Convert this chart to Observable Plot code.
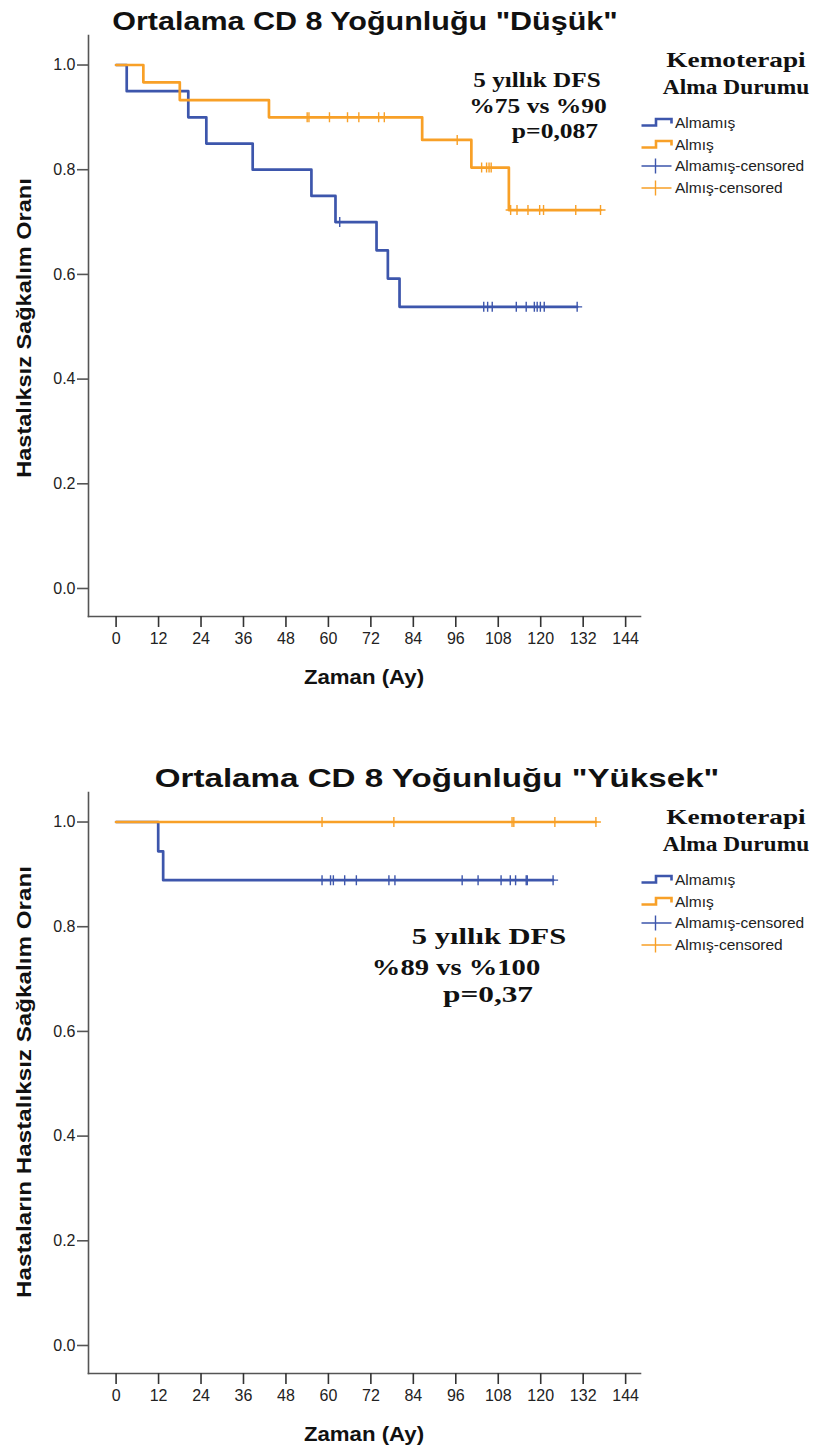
<!DOCTYPE html>
<html><head><meta charset="utf-8">
<script src="https://cdn.jsdelivr.net/npm/d3@7"></script>
<script src="https://cdn.jsdelivr.net/npm/@observablehq/plot@0.6"></script>
<style>
body{margin:0;background:#fff;}
#page{position:relative;width:827px;height:1452px;overflow:hidden;background:#fff;}
.t{position:absolute;white-space:nowrap;line-height:1;color:#111;}
#page svg.plotsvg{position:absolute;left:0;}
</style></head><body><div id="page"></div>
<script>
// ---------- data ----------
const xTicks = [0, 12, 24, 36, 48, 60, 72, 84, 96, 108, 120, 132, 144];
const yTicks = [0, 0.2, 0.4, 0.6, 0.8, 1.0];
const seriesNames = ["Almamış", "Almış"];
const legendLabels = ["Almamış", "Almış", "Almamış-censored", "Almış-censored"];
const seriesColors = ["#3d56ac", "#f8a027"];

// Panel 1: Ortalama CD 8 Yoğunluğu "Düşük"
const dusukAlmamisTime = [0, 3.0, 20.4, 25.5, 38.6, 55.2, 62.0, 73.6, 76.8, 80.1, 130.3];
const dusukAlmamisSurv = [1, 0.95, 0.90, 0.85, 0.80, 0.75, 0.70, 0.646, 0.592, 0.538, 0.538];
const dusukAlmamisCensor = [63.2, 103.9, 105.0, 106.3, 113.1, 115.9, 118.2, 119.0, 119.9, 121.0, 130.3];
const dusukAlmisTime = [0, 7.7, 18.0, 43.2, 86.5, 100.4, 111.0, 136.9];
const dusukAlmisSurv = [1, 0.967, 0.933, 0.900, 0.857, 0.804, 0.723, 0.723];
const dusukAlmisCensor = [54.0, 54.5, 60.3, 65.4, 68.6, 74.2, 75.8, 96.4, 103.3, 104.7, 105.4, 106.0, 111.5, 113.3, 116.4, 119.7, 120.8, 129.9, 136.9];

// Panel 2: Ortalama CD 8 Yoğunluğu "Yüksek"
const yuksekAlmamisTime = [0, 11.9, 13.3, 123.5];
const yuksekAlmamisSurv = [1, 0.944, 0.889, 0.889];
const yuksekAlmamisCensor = [58.2, 60.6, 61.4, 64.6, 67.9, 77.1, 78.8, 97.8, 102.3, 108.8, 111.4, 112.9, 115.9, 116.2, 123.5];
const yuksekAlmisTime = [0, 135.6];
const yuksekAlmisSurv = [1, 1];
const yuksekAlmisCensor = [58.2, 78.5, 111.9, 112.4, 124.0, 135.6];

const titles = ['Ortalama CD 8 Yoğunluğu "Düşük"', 'Ortalama CD 8 Yoğunluğu "Yüksek"'];
const yLabels = ["Hastalıksız Sağkalım Oranı", "Hastaların Hastalıksız Sağkalım Oranı"];
const xLabel = "Zaman (Ay)";
const legendTitle = ["Kemoterapi", "Alma Durumu"];
const notes = [["5 yıllık DFS", "%75 vs %90", "p=0,087"], ["5 yıllık DFS", "%89 vs %100", "p=0,37"]];

// ---------- layout ----------
const page = document.getElementById("page");
const SANS = '"Liberation Sans", Arial, sans-serif';
const SERIF = '"Liberation Serif", "Times New Roman", serif';
const AXIS = "#555";
const xExtent = [-7.8, 148.2];
const yExtent = [-0.0535, 1.0564];

function addText(txt, o) {
  const el = document.createElement("div");
  el.className = "t";
  el.textContent = txt;
  el.style.fontSize = o.size + "px";
  el.style.fontFamily = o.font;
  el.style.fontWeight = o.weight || "normal";
  if (o.color) el.style.color = o.color;
  page.appendChild(el);
  const w = el.offsetWidth;
  const sx = o.width ? o.width / w : 1;
  el.style.left = o.x + "px";
  el.style.top = o.y + "px";
  if (o.anchor === "start") {
    el.style.transformOrigin = "0 50%";
    el.style.transform = `translate(0,-50%) scaleX(${sx})`;
  } else {
    el.style.transform = `translate(-50%,-50%)${o.rotate ? ` rotate(${o.rotate}deg)` : ""} scaleX(${sx})`;
  }
  return el;
}

const plusSymbol = {
  draw(ctx, size) {
    const r = Math.sqrt(size / Math.PI);
    ctx.moveTo(0, -r); ctx.lineTo(0, r);
    ctx.moveTo(-r, 0); ctx.lineTo(r, 0);
  }
};

function stepRows(name, time, surv) {
  return time.map((t, i) => ({group: name, t, S: surv[i]}));
}
function censorRows(name, time, surv, cens) {
  return cens.map(c => ({group: name, t: c, S: surv[Math.max(0, d3.bisectRight(time, c) - 1)]}));
}

const titleBox = [[365, 20.5, 25, 506], [437, 777.5, 26, 565]];

function panel(idx, oy, series) {
  const lines = series.flatMap(s => stepRows(s.name, s.time, s.surv));
  const cens = series.flatMap(s => censorRows(s.name, s.time, s.surv, s.cens));
  const svg = Plot.plot({
    width: 827, height: 700,
    marginLeft: 88, marginRight: 187, marginTop: 35, marginBottom: 84,
    style: {background: "transparent", fontFamily: SANS, color: "#222"},
    x: {domain: xExtent},
    y: {domain: yExtent},
    color: {domain: seriesNames, range: seriesColors},
    marks: [
      Plot.frame({anchor: "left", stroke: AXIS, strokeWidth: 1.6}),
      Plot.frame({anchor: "bottom", stroke: AXIS, strokeWidth: 1.6}),
      Plot.axisY(yTicks, {tickFormat: d3.format(".1f"), tickSize: 11, tickPadding: 2, fontSize: 16, label: null, stroke: AXIS, strokeWidth: 1.6, fill: "#222"}),
      Plot.axisX(xTicks, {tickSize: 11, tickPadding: 5, fontSize: 16, label: null, stroke: "#333", strokeWidth: 1.6, fill: "#222"}),
      Plot.line(lines, {x: "t", y: "S", z: "group", stroke: "group", curve: "step-after", strokeWidth: 2.7}),
      Plot.dot(cens, {x: "t", y: "S", stroke: "group", fill: "none", symbol: plusSymbol, r: 5, strokeWidth: 1.4})
    ]
  });
  svg.classList.add("plotsvg");
  svg.style.top = oy + "px";
  page.appendChild(svg);

  // title
  const tb = titleBox[idx];
  addText(titles[idx], {x: tb[0], y: tb[1], size: tb[2], font: SANS, weight: "bold", width: tb[3]});
  // y label
  addText(yLabels[idx], {x: 24, y: oy + (idx === 0 ? 328 : 325), size: 20, font: SANS, weight: "bold", rotate: -90, width: idx === 0 ? 300 : 432});
  // x label
  addText(xLabel, {x: 364, y: oy + 677, size: 20, font: SANS, weight: "bold", width: 120});
  // legend title
  addText(legendTitle[0], {x: 736, y: oy + 59.5, size: 21, font: SERIF, weight: "bold", width: 139});
  addText(legendTitle[1], {x: 736, y: oy + 86.5, size: 21, font: SERIF, weight: "bold", width: 146});
  // legend rows
  const rowY = [123, 144.5, 166, 188];
  legendLabels.forEach((lab, i) => {
    const col = seriesColors[i % 2];
    const ic = document.createElementNS("http://www.w3.org/2000/svg", "svg");
    ic.setAttribute("width", 34); ic.setAttribute("height", 18);
    ic.style.position = "absolute"; ic.style.left = "640px"; ic.style.top = (oy + rowY[i] - 9) + "px";
    if (i < 2) {
      ic.innerHTML = `<path d="M1.5,11.5H16V5H31.5V9.5" fill="none" stroke="${col}" stroke-width="2.6"/>`;
    } else {
      ic.innerHTML = `<path d="M1.5,9H31.5M15.5,1.5V16.5" fill="none" stroke="${col}" stroke-width="1.4"/>`;
    }
    page.appendChild(ic);
    addText(lab, {x: 675, y: oy + rowY[i], size: 15.5, font: SANS, anchor: "start", color: "#222"});
  });
}

panel(0, 0, [
  {name: seriesNames[0], time: dusukAlmamisTime, surv: dusukAlmamisSurv, cens: dusukAlmamisCensor},
  {name: seriesNames[1], time: dusukAlmisTime, surv: dusukAlmisSurv, cens: dusukAlmisCensor}
]);
panel(1, 757, [
  {name: seriesNames[0], time: yuksekAlmamisTime, surv: yuksekAlmamisSurv, cens: yuksekAlmamisCensor},
  {name: seriesNames[1], time: yuksekAlmisTime, surv: yuksekAlmisSurv, cens: yuksekAlmisCensor}
]);

// annotations
const noteTop = [[537, 80, 127], [538, 106, 138], [554.5, 131, 86]];
notes[0].forEach((s, i) => addText(s, {x: noteTop[i][0], y: noteTop[i][1], size: 22, font: SERIF, weight: "bold", width: noteTop[i][2]}));
const noteBot = [[489, 936, 154], [456, 966.5, 168], [487.5, 994, 90]];
notes[1].forEach((s, i) => addText(s, {x: noteBot[i][0], y: noteBot[i][1], size: 24, font: SERIF, weight: "bold", width: noteBot[i][2]}));
</script></body></html>
